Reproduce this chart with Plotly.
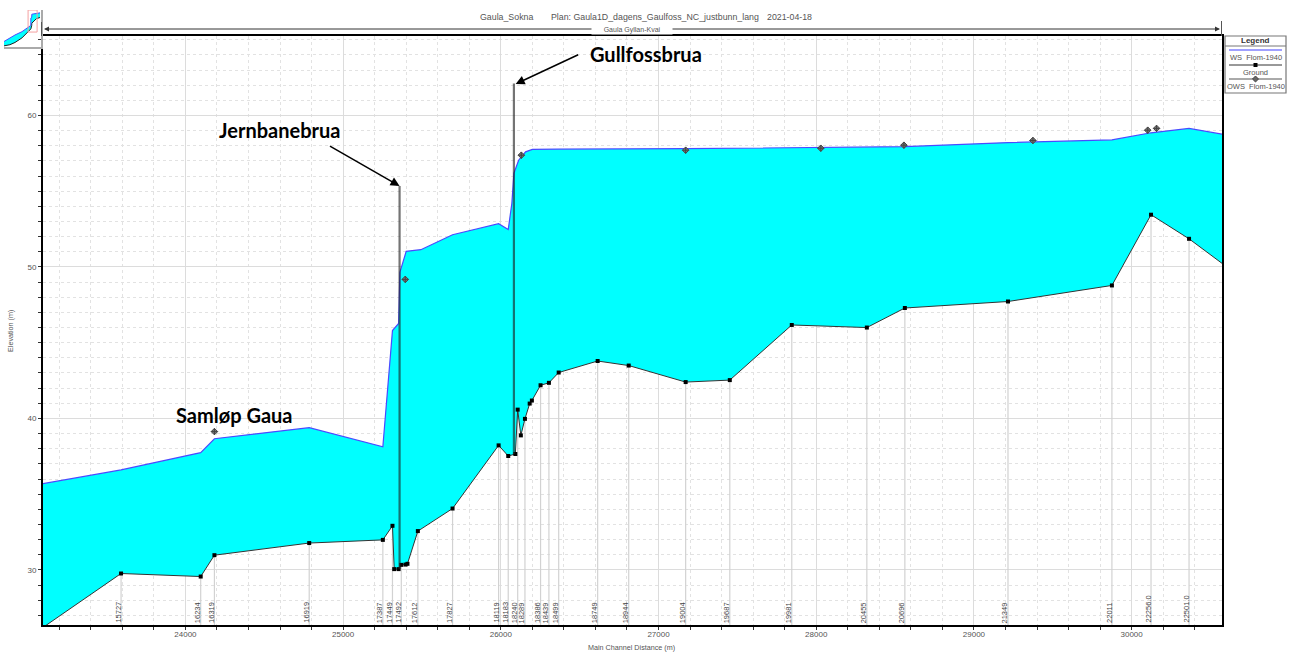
import plotly.graph_objects as go

W, H = 1290, 652
ground_x = [23097, 23592, 24097, 24184, 24785, 25252, 25313, 25324, 25352, 25369, 25396, 25408, 25474, 25694,
            25986, 26047, 26092, 26107, 26127, 26153, 26183, 26197, 26252, 26305, 26367, 26614, 26811, 27172,
            27452, 27845, 28321, 28562, 29216, 29875, 30123, 30364, 30573]
ground_y = [26.2, 29.76, 29.56, 30.97, 31.77, 31.98, 32.91, 30.05, 30.05, 30.33, 30.35, 30.4, 32.56, 34.05,
            38.22, 37.52, 37.65, 40.58, 38.88, 39.97, 40.98, 41.18, 42.19, 42.35, 43.03, 43.79, 43.49, 42.40,
            42.53, 46.17, 46.0, 47.29, 47.72, 48.78, 53.45, 51.86, 50.24]
ws_x = [23097, 23592, 24097, 24184, 24785, 25252, 25313, 25352, 25360, 25400, 25493, 25694, 25986, 26047,
        26070, 26083, 26113, 26157, 26200, 26252, 26367, 27172, 27845, 28562, 29216, 29875, 30123, 30364, 30573]
ws_y = [35.69, 36.6, 37.74, 38.66, 39.39, 38.13, 45.8, 46.27, 49.64, 51.03, 51.14, 52.13, 52.86, 52.47,
        54.2, 56.19, 57.05, 57.6, 57.76, 57.76, 57.78, 57.81, 57.88, 57.94, 58.21, 58.39, 58.86, 59.15, 58.77]
ows_x = [24184, 25394, 26130, 27172, 28029, 28556, 29374, 30102, 30158]
ows_y = [39.13, 49.18, 57.38, 57.71, 57.84, 58.04, 58.35, 59.03, 59.15]
station_x = [23592, 24097, 24184, 24785, 25252, 25313, 25369, 25474, 25694, 25986, 26047, 26107, 26153, 26252,
             26305, 26367, 26614, 26811, 27172, 27452, 27845, 28321, 28562, 29216, 29875, 30123, 30364]
station_labels = ["15727", "16234", "16319", "16919", "17387", "17449", "17492", "17612", "17827", "18119",
                  "18183", "18240", "18289", "18386", "18439", "18499", "18749", "18944", "19004", "19687",
                  "19981", "20455", "20696", "21349", "22011", "22256.0", "22501.0"]
bridge_x = [25358, 26083]
bridge_top = [55.35, 62.12]
bridge_bottom = [30.05, 37.65]
overview_x = [3100, 8000, 12230, 18000, 22190, 25350, 25400, 26100, 26200, 30000, 33000]
overview_ws = [9.7, 16, 21.2, 27, 33, 38, 51, 52.5, 57.8, 58.4, 60.2]
overview_ground = [2, 4, 8, 16, 25, 31, 32, 38, 42, 50, 52]

X_RANGE = [23097, 30573]
Y_RANGE = [26.36, 65.25]
FONT = "Liberation Sans"
TXT = "#555555"


def fx(p):
    return p / W


def fy(p):
    return 1 - p / H


ground_lookup = dict(zip(ground_x, ground_y))
line_x, line_y = [], []
for s in station_x:
    line_x += [s, s, None]
    line_y += [Y_RANGE[0], ground_lookup[s], None]
bx, by = [], []
for x, t, b in zip(bridge_x, bridge_top, bridge_bottom):
    bx += [x, x, None]
    by += [b, t, None]

fig = go.Figure()
fig.add_trace(go.Scatter(x=line_x, y=line_y, mode="lines", line=dict(color="#d2d2d2", width=1.2),
                         hoverinfo="skip", showlegend=False))
fig.add_trace(go.Scatter(x=ground_x, y=ground_y, mode="lines", line=dict(color="#333333", width=1),
                         name="Ground", showlegend=False))
fig.add_trace(go.Scatter(x=ws_x, y=ws_y, mode="lines", fill="tonexty", fillcolor="#00FFFF",
                         line=dict(color="#4a4aff", width=1.2), name="WS Flom-1940", showlegend=False))
fig.add_trace(go.Scatter(x=ground_x[1:-1], y=ground_y[1:-1], mode="markers",
                         marker=dict(symbol="square", size=4, color="black"), name="Ground", showlegend=False))
fig.add_trace(go.Scatter(x=bx, y=by, mode="lines", line=dict(color="rgba(30,30,30,0.62)", width=2.2),
                         hoverinfo="skip", showlegend=False))
fig.add_trace(go.Scatter(x=ows_x, y=ows_y, mode="markers",
                         marker=dict(symbol="diamond-cross", size=5, color="#777777",
                                     line=dict(color="#444444", width=1)),
                         name="OWS Flom-1940", showlegend=False))
# overview
fig.add_trace(go.Scatter(x=overview_x, y=overview_ground, mode="lines", line=dict(color="#222222", width=1),
                         xaxis="x2", yaxis="y2", showlegend=False, hoverinfo="skip"))
fig.add_trace(go.Scatter(x=overview_x, y=overview_ws, mode="lines", fill="tonexty", fillcolor="#00FFFF",
                         line=dict(color="#4a4aff", width=1), xaxis="x2", yaxis="y2",
                         showlegend=False, hoverinfo="skip"))

ann = []
for s, lab in zip(station_x, station_labels):
    ann.append(dict(x=s, y=Y_RANGE[0], xref="x", yref="y", text=lab, textangle=-90, showarrow=False,
                    xanchor="center", yanchor="bottom", xshift=-3, yshift=0,
                    font=dict(family=FONT, size=7.5, color="#444444")))
for x, y, t in [(24200, 59.03, "Jernbanebrua"), (26555, 64.06, "Gullfossbrua"), (23928, 40.25, "Samløp Gaua")]:
    ann.append(dict(x=x, y=y, xref="x", yref="y", text="<b>%s</b>" % t, showarrow=False, xanchor="left",
                    yanchor="middle", font=dict(family="Lato", size=20, color="black")))
for hx, hy, tx, ty in [(25358, 55.35, 24907, 58.04), (26094, 62.08, 26500, 64.06)]:
    ann.append(dict(x=hx, y=hy, ax=tx, ay=ty, xref="x", yref="y", axref="x", ayref="y", text="", showarrow=True,
                    arrowhead=2, arrowsize=1.2, arrowwidth=1.5, arrowcolor="black"))
# title
for p, t in [(478, "Gaula_Sokna"), (549, "Plan: Gaula1D_dagens_Gaulfoss_NC_justbunn_lang"), (765, "2021-04-18")]:
    ann.append(dict(x=fx(p), y=fy(17), xref="paper", yref="paper", text=t, showarrow=False, xanchor="left",
                    yanchor="middle", font=dict(family=FONT, size=8.8, color=TXT)))
# span arrows
for a, b in [(44, 632), (1220, 632)]:
    ann.append(dict(x=fx(a), y=fy(29), xref="paper", yref="paper", ax=b - a, ay=0, axref="pixel", ayref="pixel",
                    text="", showarrow=True, arrowhead=2, arrowsize=1, arrowwidth=1, arrowcolor="#333333"))
ann.append(dict(x=fx(632), y=fy(29.5), xref="paper", yref="paper",
                text="&nbsp;&nbsp;&nbsp;&nbsp;&nbsp;&nbsp;Gaula Gyllan-Kvai&nbsp;&nbsp;&nbsp;&nbsp;&nbsp;&nbsp;",
                showarrow=False, bgcolor="white", borderpad=0, xanchor="center", yanchor="middle",
                font=dict(family=FONT, size=7, color=TXT)))
# axis titles
ann.append(dict(x=fx(631), y=fy(647), xref="paper", yref="paper", text="Main Channel Distance (m)", showarrow=False,
                xanchor="center", yanchor="middle", font=dict(family=FONT, size=7.2, color=TXT)))
ann.append(dict(x=fx(11), y=fy(331), xref="paper", yref="paper", text="Elevation (m)", showarrow=False,
                textangle=-90, xanchor="center", yanchor="middle", font=dict(family=FONT, size=7.2, color=TXT)))
# legend text
ann.append(dict(x=fx(1255.5), y=fy(41), xref="paper", yref="paper", text="<b>Legend</b>", showarrow=False,
                xanchor="center", yanchor="middle", font=dict(family=FONT, size=8, color="#333333")))
for y, t in [(57.5, "WS  Flom-1940"), (72, "Ground"), (86, "OWS  Flom-1940")]:
    ann.append(dict(x=fx(1255.5), y=fy(y), xref="paper", yref="paper", text=t, showarrow=False,
                    xanchor="center", yanchor="middle", font=dict(family=FONT, size=7.5, color=TXT)))

paper = dict(xref="paper", yref="paper")
shapes = [
    dict(type="rect", x0=fx(1225), x1=fx(1286), y0=fy(36), y1=fy(93), line=dict(color="#777777", width=1.2),
         fillcolor="white", **paper),
    dict(type="line", x0=fx(1225), x1=fx(1286), y0=fy(46), y1=fy(46), line=dict(color="#777777", width=1), **paper),
    dict(type="line", x0=fx(1229), x1=fx(1282), y0=fy(50), y1=fy(50), line=dict(color="#a0a0ff", width=2), **paper),
    dict(type="line", x0=fx(1229), x1=fx(1282), y0=fy(65), y1=fy(65), line=dict(color="#333333", width=1), **paper),
    dict(type="rect", x0=fx(1253.5), x1=fx(1257.5), y0=fy(63), y1=fy(67), fillcolor="black",
         line=dict(width=0), **paper),
    dict(type="line", x0=fx(1229), x1=fx(1282), y0=fy(79), y1=fy(79), line=dict(color="#555555", width=1), **paper),
    dict(type="path", path="M %f %f L %f %f L %f %f L %f %f Z" % (fx(1255.5), fy(76), fx(1258.5), fy(79), fx(1255.5),
                                                                   fy(82), fx(1252.5), fy(79)),
         fillcolor="#666666", line=dict(color="#444444", width=1), **paper),
    dict(type="line", x0=fx(41.5), x1=fx(41.5), y0=fy(22), y1=fy(36), line=dict(color="#555555", width=1), **paper),
    dict(type="line", x0=fx(1221.5), x1=fx(1221.5), y0=fy(21), y1=fy(36), line=dict(color="#555555", width=1), **paper),
    dict(type="rect", xref="x2", yref="y2", x0=X_RANGE[0], x1=X_RANGE[1], y0=Y_RANGE[0], y1=Y_RANGE[1],
         line=dict(color="#f4a0a0", width=1), layer="above"),
]

fig.update_layout(
    width=W, height=H, margin=dict(l=0, r=0, t=0, b=0), paper_bgcolor="white", plot_bgcolor="white",
    showlegend=False, font=dict(family=FONT, color=TXT, size=8), annotations=ann, shapes=shapes,
    xaxis=dict(domain=[fx(43), fx(1222)], range=X_RANGE, dtick=1000, tick0=24000, showgrid=True,
               gridcolor="#dcdcdc", gridwidth=1.4, zeroline=False, showline=True, linecolor="black", linewidth=2,
               mirror=True, ticks="outside", ticklen=3, tickcolor="#333333", tickwidth=1, ticklabelstandoff=-3,
               tickfont=dict(family=FONT, size=8, color=TXT), tickformat="d",
               minor=dict(dtick=200, tick0=24000, showgrid=True, gridcolor="#e2e2e2", griddash="dot", gridwidth=1,
                          ticks="outside", ticklen=3, tickcolor="#333333")),
    yaxis=dict(domain=[fy(625), fy(36)], range=Y_RANGE, dtick=10, tick0=30, showgrid=True, gridcolor="#dcdcdc",
               gridwidth=1.4, zeroline=False, showline=True, linecolor="black", linewidth=2, mirror=True,
               ticks="outside", ticklen=3, tickcolor="#333333", tickfont=dict(family=FONT, size=8, color=TXT),
               minor=dict(dtick=1, tick0=30, showgrid=True, gridcolor="#e2e2e2", griddash="dot", gridwidth=1,
                          ticks="outside", ticklen=3, tickcolor="#333333")),
    xaxis2=dict(domain=[fx(4), fx(41)], range=[3100, 33810], anchor="y2", showgrid=False, zeroline=False,
                showticklabels=False, ticks="", showline=True, linecolor="#aaaaaa", linewidth=1.5),
    yaxis2=dict(domain=[fy(47), fy(10)], range=[0, 65.25], anchor="x2", side="right", showgrid=False, zeroline=False,
                showticklabels=False, ticks="", showline=True, linecolor="#aaaaaa", linewidth=1.5),
)
fig.write_html("out.html", post_script="document.body.style.margin='0';", config=dict(displayModeBar=False))
